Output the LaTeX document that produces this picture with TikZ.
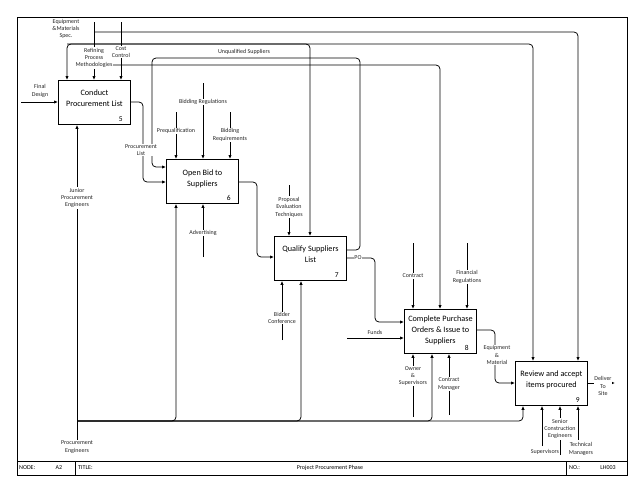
\documentclass[tikz,border=0pt]{standalone}
\usepackage{fontspec}
\setmainfont{Carlito}
\usetikzlibrary{arrows.meta,calc}
\begin{document}
\begin{tikzpicture}[x=1pt,y=-1pt,
  conn/.style={line width=0.75pt, rounded corners=4pt},
  arr/.style={conn,-{Latex[length=4pt,width=3.4pt]}},
  arrb/.style={conn,{Latex[length=4pt,width=3.4pt]}-{Latex[length=4pt,width=3.4pt]}},
  procbox/.style={draw, line width=0.9pt, minimum width=72pt, minimum height=44pt, inner sep=0pt, anchor=north west, fill=white},
  boxtxt/.style={align=center, inner sep=0pt, font=\fontsize{8.2}{11}\selectfont},
  boxnum/.style={font=\fontsize{7.5}{8}\selectfont, anchor=south east, inner sep=0pt},
  lbl/.style={fill=white, inner sep=0.6pt, align=center, font=\fontsize{6}{7.4}\selectfont, text=black!85},
  ttl/.style={font=\fontsize{6}{7}\selectfont, inner sep=0pt}
]
\useasboundingbox (0,0) rectangle (638,493);
% frame and title row
\draw[line width=0.9pt] (17,17) rectangle (627,475);
\draw[line width=0.9pt] (17,461) -- (627,461);
\draw[line width=0.9pt] (75,461) -- (75,475);
\draw[line width=0.9pt] (566,461) -- (566,475);
\node[ttl, anchor=west] (tnode) at (19,468) {NODE:};
\node[ttl] (tnum) at (59,468) {A2};
\node[ttl, anchor=west] (ttitle) at (78,468) {TITLE:};
\node[ttl] (tname) at (330,468) {Project Procurement Phase};
\node[ttl, anchor=west] (tno) at (569,468) {NO.:};
\node[ttl] (tid) at (608,468) {LH003};

% boxes
\node[procbox] (b5) at (58,80) {};
\node[procbox] (b6) at (166,159) {};
\node[procbox] (b7) at (274,236) {};
\node[procbox] (b8) at (404,309) {};
\node[procbox] (b9) at (515,361) {};
\node[boxtxt] (t5) at ($(b5.center)+(0,-4)$) {Conduct\\Procurement List};
\node[boxtxt] (t6) at ($(b6.center)+(0,-3)$) {Open Bid to\\Suppliers};
\node[boxtxt] (t7) at ($(b7.center)+(0,-4)$) {Qualify Suppliers\\List};
\node[boxtxt] (t8) at ($(b8.center)+(0,-1)$) {Complete Purchase\\Orders \& Issue to\\Suppliers};
\node[boxtxt] (t9) at ($(b9.center)+(0,-4)$) {Review and accept\\items procured};
\node[boxnum] (n5) at ($(b5.south east)+(-8,-3)$) {5};
\node[boxnum] (n6) at ($(b6.south east)+(-8,-3)$) {6};
\node[boxnum] (n7) at ($(b7.south east)+(-8,-3)$) {7};
\node[boxnum] (n8) at ($(b8.south east)+(-8,-3)$) {8};
\node[boxnum] (n9) at ($(b9.south east)+(-8,-3)$) {9};

% connector points
\coordinate (fd) at (21,102);
\coordinate (eqs) at (94,22);
\coordinate (cc) at (121,22);
\coordinate (j1) at (94,32);
\coordinate (t9b) at (578,32);
\coordinate (k1) at (67,44);
\coordinate (k2) at (310,44);
\coordinate (k3) at (533,44);
\coordinate (m1) at (94,65);
\coordinate (m2) at (440,65);
\coordinate (p1) at (143,102);
\coordinate (p2) at (143,182);
\coordinate (u1) at (360,250);
\coordinate (u2) at (360,58);
\coordinate (u3) at (152,58);
\coordinate (u4) at (152,167);
\coordinate (pq) at (176,112);
\coordinate (br) at (203,83);
\coordinate (bq) at (230,112);
\coordinate (adv) at (203,257);
\coordinate (o6a) at (257,182);
\coordinate (o6b) at (257,257);
\coordinate (pet) at (289,185);
\coordinate (bc) at (282,340);
\coordinate (po1) at (375,258);
\coordinate (po2) at (375,322);
\coordinate (ct) at (413,243);
\coordinate (fr) at (467,243);
\coordinate (fu) at (347,338);
\coordinate (ow) at (413,417);
\coordinate (cm) at (449,415);
\coordinate (e1) at (495,330);
\coordinate (e2) at (495,383);
\coordinate (sv) at (542,446);
\coordinate (sce) at (560,455);
\coordinate (tm) at (578,440);
\coordinate (dl) at (615,383);
\coordinate (pe) at (77,440);
\coordinate (bl0) at (77,421);
\coordinate (bl6) at (176,421);
\coordinate (bl7) at (301,421);
\coordinate (bl8) at (432,421);
\coordinate (bl9) at (523,421);

% connectors
\draw[arr] (fd) -- (b5.west |- fd);
\draw[arr] (eqs) -- (eqs |- b5.north);
\draw[arr] (cc) -- (cc |- b5.north);
\draw[arr] (j1) -- (t9b) -- (t9b |- b9.north);
\draw[arrb] (k1 |- b5.north) -- (k1) -- (k3) -- (k3 |- b9.north);
\draw[arr] (k1) -- (k2) -- (k2 |- b7.north);
\draw[arr] (m1) -- (m2) -- (m2 |- b8.north);
\draw[arr] (b5.east |- p1) -- (p1) -- (p2) -- (b6.west |- p2);
\draw[arr] (b7.east |- u1) -- (u1) -- (u2) -- (u3) -- (u4) -- (b6.west |- u4);
\draw[arr] (pq) -- (pq |- b6.north);
\draw[arr] (br) -- (br |- b6.north);
\draw[arr] (bq) -- (bq |- b6.north);
\draw[arr] (adv) -- (adv |- b6.south);
\draw[arr] (b6.east |- o6a) -- (o6a) -- (o6b) -- (b7.west |- o6b);
\draw[arr] (pet) -- (pet |- b7.north);
\draw[arr] (bc) -- (bc |- b7.south);
\draw[arr] (b7.east |- po1) -- (po1) -- (po2) -- (b8.west |- po2);
\draw[arr] (ct) -- (ct |- b8.north);
\draw[arr] (fr) -- (fr |- b8.north);
\draw[arr] (fu) -- (b8.west |- fu);
\draw[arr] (ow) -- (ow |- b8.south);
\draw[arr] (cm) -- (cm |- b8.south);
\draw[arr] (b8.east |- e1) -- (e1) -- (e2) -- (b9.west |- e2);
\draw[arr] (b9.east |- dl) -- (dl);
\draw[arr] (sv) -- (sv |- b9.south);
\draw[arr] (sce) -- (sce |- b9.south);
\draw[arr] (tm) -- (tm |- b9.south);
\draw[arr] (pe) -- (pe |- b5.south);
\draw[arr] (bl0) -- (bl6) -- (bl6 |- b6.south);
\draw[arr] (bl0) -- (bl7) -- (bl7 |- b7.south);
\draw[arr] (bl0) -- (bl8) -- (bl8 |- b8.south);
\draw[arr] (bl0) -- (bl9) -- (bl9 |- b9.south);

% labels
\node[lbl] (lfd) at (40,91) {Final\\Design};
\node[lbl] (leq) at (66,29) {Equipment\\\&Materials\\Spec.};
\node[lbl] (lrp) at (94,58) {Refining\\Process\\Methodologies};
\node[lbl] (lcc) at (121,52) {Cost\\Control};
\node[lbl] (luq) at (244,52) {Unqualified Suppliers};
\node[lbl] (lpl) at (141,150) {Procurement\\List};
\node[lbl] (lbr) at (203,102) {Bidding Regulations};
\node[lbl] (lpq) at (176,131) {Prequalification};
\node[lbl] (lbq) at (230,135) {Bidding\\Requirements};
\node[lbl] (ljp) at (77,198) {Junior\\Procurement\\Engineers};
\node[lbl] (lad) at (203,233) {Advertising};
\node[lbl] (lpe2) at (289,207) {Proposal\\Evaluation\\Techniques};
\node[lbl] (lbc) at (282,318) {Bidder\\Conference};
\node[lbl] (lpo) at (358,258) {PO};
\node[lbl] (lct) at (413,276) {Contract};
\node[lbl] (lfr) at (467,277) {Financial\\Regulations};
\node[lbl] (lfu) at (375,332) {Funds};
\node[lbl] (low) at (413,376) {Owner\\\&\\Supervisors};
\node[lbl] (lcm) at (449,384) {Contract\\Manager};
\node[lbl] (lem) at (497,355) {Equipment\\\&\\Material};
\node[lbl] (ldl) at (603,386) {Deliver\\To\\Site};
\node[lbl] (lsce) at (560,429) {Senior\\Construction\\Engineers};
\node[lbl] (lsv) at (545,452) {Supervisors};
\node[lbl] (ltm) at (581,449) {Technical\\Managers};
\node[lbl] (lpe) at (77,447) {Procurement\\Engineers};
\end{tikzpicture}
\end{document}
